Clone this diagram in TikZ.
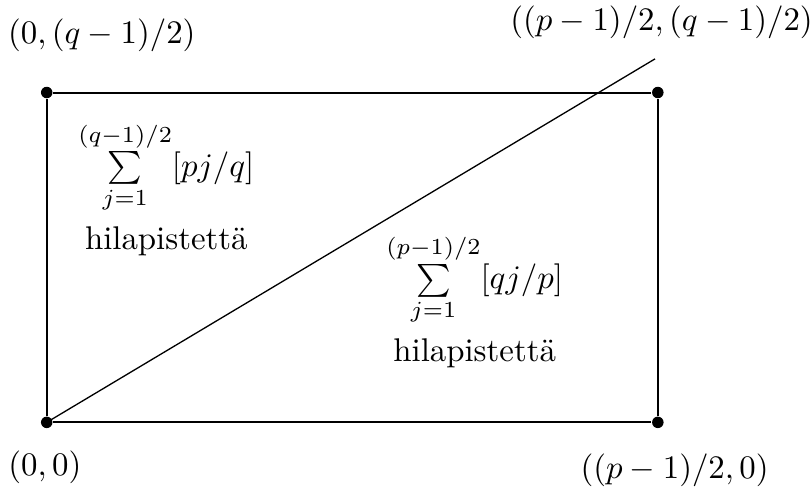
\documentclass[tikz,border=0pt]{standalone}
\usepackage{amsmath,amsfonts}
\usetikzlibrary{positioning}

\tikzset{
  dot/.style={circle,fill,inner sep=0pt,minimum size=3.5pt},
  side/.style={semithick},
}

\begin{document}
\begin{tikzpicture}
  \useasboundingbox (-0.50,-0.72) rectangle (8.19,4.52);
  \node (o) [dot] at (0,0) {};
  \node (p) [dot] at (6.54,0) {};
  \node (q) [dot] at (0,3.53) {};
  \node (pq) [dot] at (6.54,3.53) {};
  \coordinate (diagend) at (6.51,3.89);

  \node (lo) at (-0.02,-0.48) {$(0,0)$};
  \node (lp) at (6.72,-0.51) {$((p-1)/2,0)$};
  \node (lq) at (0.59,4.14) {$(0,(q-1)/2)$};
  \node (lpq) at (6.58,4.28) {$((p-1)/2,(q-1)/2)$};

  \node (upper) [align=center] at (1.28,2.50)
    {$\sum\limits_{j=1}^{(q-1)/2}[pj/q]$\\[3pt] hilapistettä};
  \node (lower) [align=center] at (4.58,1.30)
    {$\sum\limits_{j=1}^{(p-1)/2}[qj/p]$\\[3pt] hilapistettä};

  \draw[side] (o) -- (p) -- (pq) -- (q) -- (o);
  \draw (o.center) -- (diagend);
\end{tikzpicture}
\end{document}
